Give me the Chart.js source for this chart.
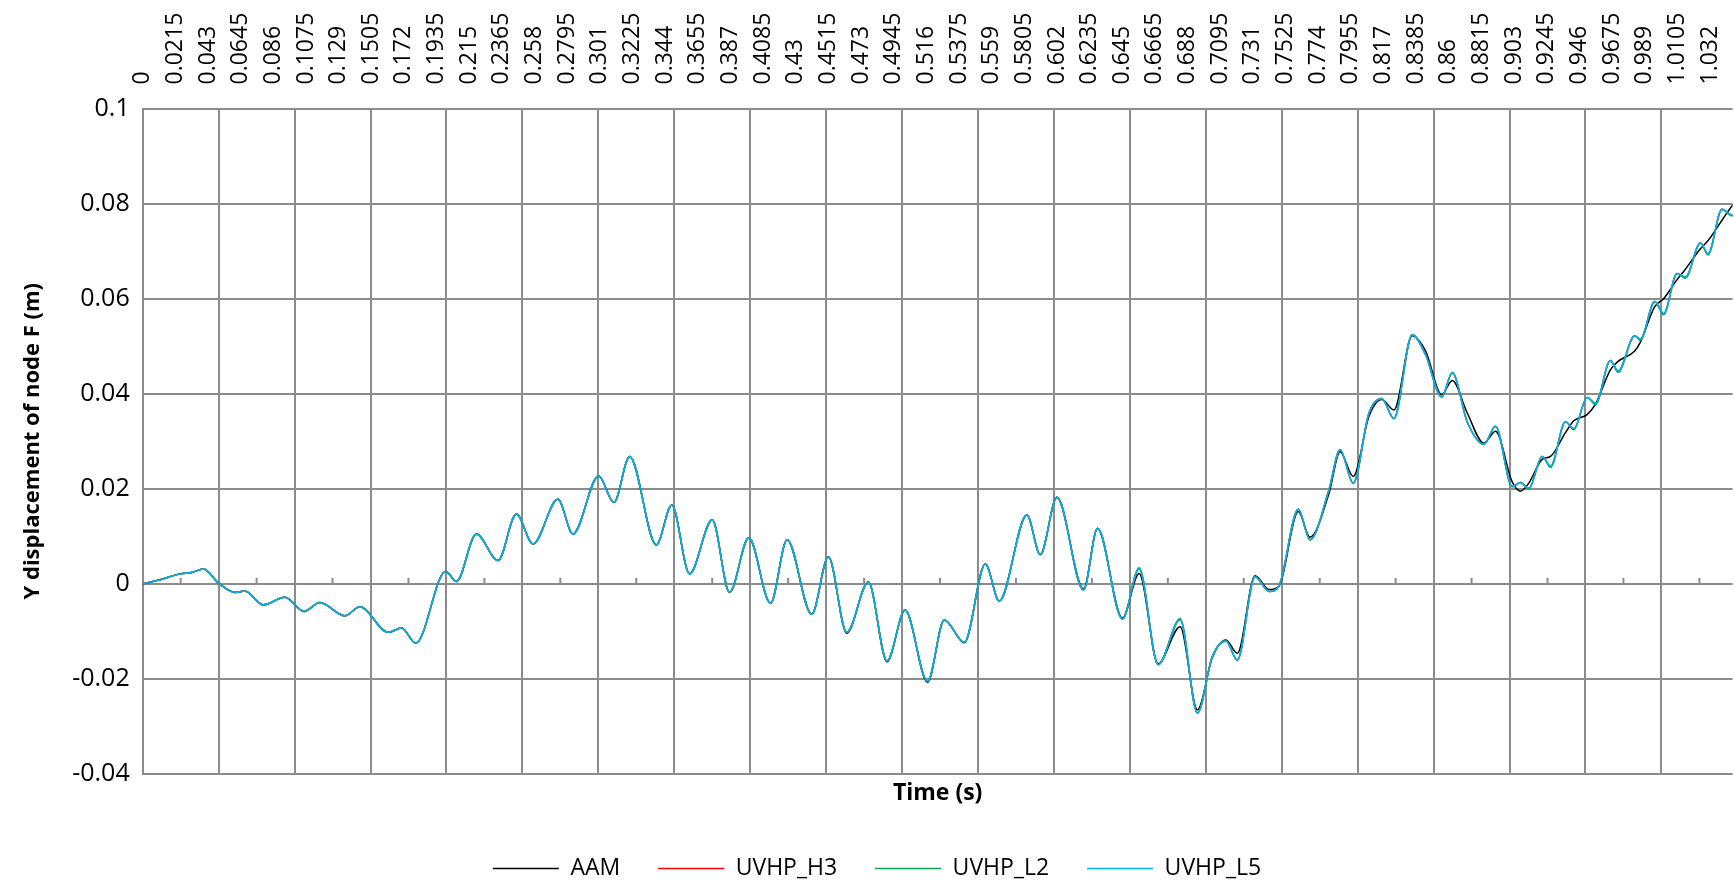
<!DOCTYPE html>
<html>
<head>
<meta charset="utf-8">
<title>Y displacement of node F</title>
<script src="https://cdn.jsdelivr.net/npm/chart.js@4.4.1/dist/chart.umd.min.js"></script>
<style>
  html, body { margin: 0; padding: 0; background: #fff; }
  #wrap { width: 1734px; height: 885px; }
</style>
</head>
<body>
<div id="wrap"><canvas id="chart" width="1734" height="885"></canvas></div>
<script>
// time samples (s) shared by all four runs
const time = [
  0, 0.012, 0.0245, 0.0322, 0.0399, 0.0502, 0.0607, 0.0673, 0.0794, 0.0936,
  0.1063, 0.1166, 0.1331, 0.143, 0.1616, 0.1704, 0.1798, 0.1995, 0.2066, 0.2197,
  0.234, 0.246, 0.257, 0.2734, 0.2833, 0.3002, 0.3103, 0.3206, 0.3382, 0.3484,
  0.3601, 0.375, 0.3864, 0.3991, 0.4134, 0.4243, 0.4405, 0.4515, 0.4636, 0.4778,
  0.4901, 0.502, 0.5168, 0.5278, 0.541, 0.5548, 0.564, 0.5822, 0.591, 0.602,
  0.6195, 0.6287, 0.6451, 0.6561, 0.6686, 0.6831, 0.6945, 0.7043, 0.7132, 0.7208,
  0.7324, 0.7417, 0.7482, 0.7609, 0.7686, 0.7811, 0.7884, 0.7971, 0.8074, 0.8158,
  0.8239, 0.8359, 0.8447, 0.8553, 0.8623, 0.8721, 0.8831, 0.8908, 0.9017, 0.9072,
  0.9127, 0.9215, 0.927, 0.9368, 0.9423, 0.9511, 0.9566, 0.9664, 0.9715, 0.9824,
  0.9861, 0.9956, 1.0015, 1.0103, 1.0158, 1.0257, 1.0307, 1.0399, 1.0465, 1.05
];

// Y displacement of node F (m)
const aam = [
  0, 0.0009, 0.0021, 0.0024, 0.0031, 0.0001, -0.0018, -0.0015, -0.0044, -0.0028,
  -0.0058, -0.0039, -0.0067, -0.0048, -0.0102, -0.0093, -0.0125, 0.0026, 0.0005, 0.0105,
  0.0049, 0.0147, 0.0084, 0.0178, 0.0105, 0.0227, 0.0171, 0.0268, 0.0082, 0.0166,
  0.0021, 0.0135, -0.0018, 0.0097, -0.0041, 0.0093, -0.0064, 0.0057, -0.0104, 0.0004,
  -0.0164, -0.0055, -0.0207, -0.0076, -0.0124, 0.0042, -0.0036, 0.0145, 0.0062, 0.0182,
  -0.0011, 0.0117, -0.0072, 0.0022, -0.0168, -0.009, -0.0265, -0.0155, -0.0118, -0.0146,
  0.0017, -0.0012, -0.0005, 0.0152, 0.0098, 0.019, 0.0278, 0.0226, 0.0352, 0.0388,
  0.0366, 0.0522, 0.049, 0.0398, 0.0428, 0.036, 0.0296, 0.0321, 0.0215, 0.0195,
  0.0212, 0.0262, 0.0268, 0.0318, 0.0343, 0.0356, 0.0378, 0.045, 0.0468, 0.049,
  0.0508, 0.0583, 0.06, 0.064, 0.0662, 0.0705, 0.0722, 0.0765, 0.0795, 0.0805
];
const uvhpH3 = [
  0, 0.0009, 0.0021, 0.0024, 0.0031, 0.0001, -0.0018, -0.0015, -0.0044, -0.0028,
  -0.0058, -0.0039, -0.0067, -0.0048, -0.0102, -0.0093, -0.0125, 0.0026, 0.0005, 0.0105,
  0.0049, 0.0147, 0.0084, 0.0178, 0.0105, 0.0227, 0.0171, 0.0268, 0.0082, 0.0166,
  0.0021, 0.0135, -0.0018, 0.0097, -0.0041, 0.0093, -0.0064, 0.0057, -0.0102, 0.0004,
  -0.0162, -0.0055, -0.0205, -0.0076, -0.0123, 0.0042, -0.0036, 0.0145, 0.0061, 0.0182,
  -0.0013, 0.0117, -0.0074, 0.0032, -0.017, -0.0075, -0.0272, -0.0153, -0.012, -0.016,
  0.0015, -0.0016, -0.0004, 0.0157, 0.0093, 0.0198, 0.0282, 0.0212, 0.0359, 0.039,
  0.0348, 0.0524, 0.0482, 0.0393, 0.0444, 0.0341, 0.0294, 0.0331, 0.0205, 0.0213,
  0.0201, 0.0268, 0.0247, 0.0341, 0.0326, 0.0392, 0.0379, 0.047, 0.0447, 0.0522,
  0.0514, 0.0594, 0.0568, 0.0653, 0.0645, 0.0717, 0.0694, 0.0788, 0.0776, 0.0781
];
const uvhpL2 = [
  0, 0.0009, 0.0021, 0.0024, 0.0031, 0.0001, -0.0018, -0.0015, -0.0044, -0.0028,
  -0.0058, -0.0039, -0.0067, -0.0048, -0.0102, -0.0093, -0.0125, 0.0026, 0.0005, 0.0105,
  0.0049, 0.0147, 0.0084, 0.0178, 0.0105, 0.0227, 0.0171, 0.0268, 0.0082, 0.0166,
  0.0021, 0.0135, -0.0018, 0.0097, -0.0041, 0.0093, -0.0064, 0.0057, -0.0102, 0.0004,
  -0.0162, -0.0055, -0.0205, -0.0076, -0.0123, 0.0042, -0.0036, 0.0145, 0.0061, 0.0182,
  -0.0013, 0.0117, -0.0074, 0.0034, -0.017, -0.0073, -0.0272, -0.0153, -0.012, -0.0161,
  0.0015, -0.0016, -0.0004, 0.0157, 0.0092, 0.0198, 0.0282, 0.0211, 0.0359, 0.039,
  0.0347, 0.0524, 0.0482, 0.0393, 0.0445, 0.0341, 0.0293, 0.0332, 0.0204, 0.0213,
  0.0199, 0.0268, 0.0245, 0.0341, 0.0324, 0.0392, 0.0377, 0.047, 0.0445, 0.0522,
  0.0512, 0.0594, 0.0566, 0.0653, 0.0643, 0.0717, 0.0692, 0.0788, 0.0774, 0.0779
];
const uvhpL5 = [
  0, 0.0009, 0.0021, 0.0024, 0.0031, 0.0001, -0.0018, -0.0015, -0.0044, -0.0028,
  -0.0058, -0.0039, -0.0067, -0.0048, -0.0102, -0.0093, -0.0125, 0.0026, 0.0005, 0.0105,
  0.0049, 0.0147, 0.0084, 0.0178, 0.0105, 0.0227, 0.0171, 0.0268, 0.0082, 0.0166,
  0.0021, 0.0135, -0.0018, 0.0097, -0.0041, 0.0093, -0.0064, 0.0057, -0.0102, 0.0004,
  -0.0162, -0.0055, -0.0205, -0.0076, -0.0123, 0.0042, -0.0036, 0.0145, 0.0061, 0.0182,
  -0.0013, 0.0117, -0.0074, 0.0031, -0.017, -0.0076, -0.0272, -0.0153, -0.012, -0.016,
  0.0015, -0.0016, -0.0004, 0.0157, 0.0093, 0.0198, 0.0282, 0.0212, 0.0359, 0.039,
  0.0348, 0.0524, 0.0482, 0.0393, 0.0444, 0.0341, 0.0294, 0.0331, 0.0205, 0.0213,
  0.0201, 0.0268, 0.0248, 0.0341, 0.0327, 0.0392, 0.038, 0.047, 0.0448, 0.0522,
  0.0515, 0.0594, 0.0569, 0.0653, 0.0646, 0.0717, 0.0695, 0.0788, 0.0776, 0.0781
];

// top axis labels every 0.0215 s, gridlines every 0.05 s
const timeTicks = Array.from({ length: 49 }, (_, i) => +(i * 0.0215).toFixed(4));
const gridTimes = Array.from({ length: 21 }, (_, i) => +(i * 0.05).toFixed(2));
const xMax = 1.0469;

const gridColor = '#8c8c8c';
const fontFamily = "'Open Sans', 'Liberation Sans', sans-serif";
const topFontSize = 23;

Chart.defaults.font.family = fontFamily;
Chart.defaults.color = '#000';

const series = [
  { label: 'AAM', data: aam, color: '#000000', order: 4 },
  { label: 'UVHP_H3', data: uvhpH3, color: '#FF0000', order: 3 },
  { label: 'UVHP_L2', data: uvhpL2, color: '#00B050', order: 2 },
  { label: 'UVHP_L5', data: uvhpL5, color: '#00B0F0', order: 1 }
];

// small tick marks on the zero line, halfway between gridlines
const zeroLineTicks = {
  id: 'zeroLineTicks',
  beforeDatasetsDraw(chart) {
    const { ctx, scales: { x, y } } = chart;
    const y0 = y.getPixelForValue(0);
    ctx.save();
    ctx.strokeStyle = gridColor;
    ctx.lineWidth = 2;
    for (let i = 0; i < gridTimes.length; i++) {
      const t = gridTimes[i] + 0.025;
      if (t > xMax) break;
      const px = x.getPixelForValue(t);
      ctx.beginPath();
      ctx.moveTo(px, y0);
      ctx.lineTo(px, y0 - 6);
      ctx.stroke();
    }
    ctx.restore();
  }
};

new Chart(document.getElementById('chart'), {
  type: 'line',
  data: {
    datasets: series.map(s => ({
      label: s.label,
      data: time.map((t, i) => ({ x: t, y: s.data[i] })),
      borderColor: s.color,
      backgroundColor: s.color,
      borderWidth: 1.5,
      pointRadius: 0,
      cubicInterpolationMode: 'monotone',
      fill: false,
      order: s.order
    }))
  },
  options: {
    responsive: false,
    animation: false,
    devicePixelRatio: 1,
    events: [],
    layout: {
      padding: { left: 20, right: 0, top: 0, bottom: -5 },
      autoPadding: false
    },
    scales: {
      x: {
        type: 'linear',
        position: 'bottom',
        min: 0,
        max: xMax,
        afterBuildTicks: s => { s.ticks = gridTimes.map(v => ({ value: v })); },
        ticks: { display: false },
        grid: { color: gridColor, lineWidth: 2, drawTicks: false },
        border: { display: false },
        title: {
          display: true,
          text: 'Time (s)',
          font: { size: 23, weight: 'bold' },
          padding: { top: 0, bottom: 12 }
        },
        afterFit: s => { s.height = 45; }
      },
      xTop: {
        type: 'linear',
        position: 'top',
        min: 0,
        max: xMax,
        afterBuildTicks: s => { s.ticks = timeTicks.map(v => ({ value: v })); },
        ticks: {
          minRotation: 90,
          maxRotation: 90,
          autoSkip: false,
          padding: 24,
          // rotated top labels are pushed left by one line height; bring them back over their tick
          labelOffset: topFontSize * 1.2,
          font: { size: topFontSize },
          callback: v => String(+v.toFixed(4))
        },
        grid: { display: false, drawTicks: false },
        border: { display: false },
        afterFit: s => { s.height = 108.5; }
      },
      y: {
        min: -0.04,
        max: 0.1,
        ticks: {
          stepSize: 0.02,
          padding: 13,
          font: { size: 25 },
          callback: v => String(+v.toFixed(3))
        },
        grid: { color: gridColor, lineWidth: 2, drawTicks: false },
        border: { color: gridColor, width: 2 },
        title: {
          display: true,
          text: 'Y displacement of node F (m)',
          font: { size: 22, weight: 'bold' },
          padding: 0
        },
        afterFit: s => { s.width = 122.7; }
      }
    },
    plugins: {
      legend: {
        position: 'bottom',
        labels: {
          usePointStyle: true,
          pointStyle: 'line',
          pointStyleWidth: 66,
          padding: 38,
          font: { size: 23 },
          color: '#000',
          sort: (a, b) => a.datasetIndex - b.datasetIndex
        }
      },
      tooltip: { enabled: false }
    }
  },
  plugins: [zeroLineTicks]
});
</script>
</body>
</html>
